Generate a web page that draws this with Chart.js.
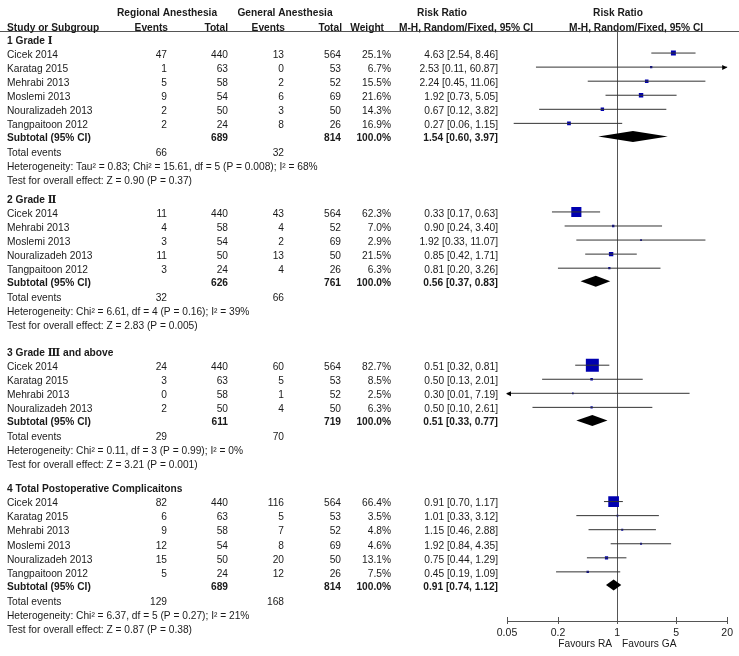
<!DOCTYPE html>
<html>
<head>
<meta charset="utf-8">
<title>Forest plot</title>
<script src="https://cdn.jsdelivr.net/npm/chart.js@4.4.1/dist/chart.umd.min.js"></script>
<style>
  html, body { margin: 0; padding: 0; background: #fff; }
  canvas { display: block; }
</style>
</head>
<body>
<canvas id="forestChart" width="739" height="656"></canvas>
<script>
// 그룹별 데이터
const groupTitles = ["1 Grade Ⅰ", "2 Grade Ⅱ", "3 Grade Ⅲ and above", "4 Total Postoperative Complicaitons"];
const studyNames = [
  ["Cicek 2014", "Karatag 2015", "Mehrabi 2013", "Moslemi 2013", "Nouralizadeh 2013", "Tangpaitoon 2012"],
  ["Cicek 2014", "Mehrabi 2013", "Moslemi 2013", "Nouralizadeh 2013", "Tangpaitoon 2012"],
  ["Cicek 2014", "Karatag 2015", "Mehrabi 2013", "Nouralizadeh 2013"],
  ["Cicek 2014", "Karatag 2015", "Mehrabi 2013", "Moslemi 2013", "Nouralizadeh 2013", "Tangpaitoon 2012"],
];
const raEvents = [[47, 1, 5, 9, 2, 2], [11, 4, 3, 11, 3], [24, 3, 0, 2], [82, 6, 9, 12, 15, 5]];
const raTotal = [[440, 63, 58, 54, 50, 24], [440, 58, 54, 50, 24], [440, 63, 58, 50], [440, 63, 58, 54, 50, 24]];
const gaEvents = [[13, 0, 2, 6, 3, 8], [43, 4, 2, 13, 4], [60, 5, 1, 4], [116, 5, 7, 8, 20, 12]];
const gaTotal = [[564, 53, 52, 69, 50, 26], [564, 52, 69, 50, 26], [564, 53, 52, 50], [564, 53, 52, 69, 50, 26]];
const weights = [[25.1, 6.7, 15.5, 21.6, 14.3, 16.9], [62.3, 7.0, 2.9, 21.5, 6.3], [82.7, 8.5, 2.5, 6.3], [66.4, 3.5, 4.8, 4.6, 13.1, 7.5]];
const riskRatio = [[4.63, 2.53, 2.24, 1.92, 0.67, 0.27], [0.33, 0.90, 1.92, 0.85, 0.81], [0.51, 0.50, 0.30, 0.50], [0.91, 1.01, 1.15, 1.92, 0.75, 0.45]];
const ciLower = [[2.54, 0.11, 0.45, 0.73, 0.12, 0.06], [0.17, 0.24, 0.33, 0.42, 0.20], [0.32, 0.13, 0.01, 0.10], [0.70, 0.33, 0.46, 0.84, 0.44, 0.19]];
const ciUpper = [[8.46, 60.87, 11.06, 5.05, 3.82, 1.15], [0.63, 3.40, 11.07, 1.71, 3.26], [0.81, 2.01, 7.19, 2.61], [1.17, 3.12, 2.88, 4.35, 1.29, 1.09]];

// 소계
const subRaTotal = [689, 626, 611, 689];
const subGaTotal = [814, 761, 719, 814];
const subRR = [1.54, 0.56, 0.51, 0.91];
const subLower = [0.60, 0.37, 0.33, 0.74];
const subUpper = [3.97, 0.83, 0.77, 1.12];
const totalRaEvents = [66, 32, 29, 129];
const totalGaEvents = [32, 66, 70, 168];
const heterogeneity = [
  "Heterogeneity: Tau² = 0.83; Chi² = 15.61, df = 5 (P = 0.008); I² = 68%",
  "Heterogeneity: Chi² = 6.61, df = 4 (P = 0.16); I² = 39%",
  "Heterogeneity: Chi² = 0.11, df = 3 (P = 0.99); I² = 0%",
  "Heterogeneity: Chi² = 6.37, df = 5 (P = 0.27); I² = 21%",
];
const overallEffect = [
  "Test for overall effect: Z = 0.90 (P = 0.37)",
  "Test for overall effect: Z = 2.83 (P = 0.005)",
  "Test for overall effect: Z = 3.21 (P = 0.001)",
  "Test for overall effect: Z = 0.87 (P = 0.38)",
];
const xTicks = [0.05, 0.2, 1, 5, 20];

// 레이아웃
const X_MIN = 0.05, X_MAX = 20;
const Y_MIN = -0.569, Y_MAX = 41.394;
const GROUP_GAPS = [1.3, 1.9, 1.7];
const FONT = '"Liberation Sans", Arial, "DejaVu Serif", sans-serif';
const FONT_SIZE = 10.2;
const TEXT_COLOR = "#1a1a1a";
const LINE_COLOR = "#555";
const COL = { name: 7, raEv: 167, raTot: 228, gaEv: 284, gaTot: 341, weight: 391, ci: 498 };

// 행 위치 계산
const rows = [];
let pos = 0;
groupTitles.forEach((title, g) => {
  if (g > 0) pos += GROUP_GAPS[g - 1];
  rows.push({ kind: "title", g, y: pos });
  studyNames[g].forEach((name, i) => {
    pos += 1;
    rows.push({ kind: "study", g, i, y: pos });
  });
  const last = pos;
  rows.push({ kind: "subtotal", g, y: last + 0.93 });
  rows.push({ kind: "events", g, y: last + 2 });
  rows.push({ kind: "het", g, y: last + 3 });
  rows.push({ kind: "test", g, y: last + 4 });
  pos = last + 4;
});

const studyRows = rows.filter((r) => r.kind === "study");
const subRows = rows.filter((r) => r.kind === "subtotal");

const fmt = (v) => v.toFixed(2);
const ciText = (est, lo, hi) => `${fmt(est)} [${fmt(lo)}, ${fmt(hi)}]`;

// 신뢰구간 선
const ciDatasets = studyRows.map((r) => ({
  type: "line",
  data: [
    { x: ciLower[r.g][r.i], y: r.y },
    { x: ciUpper[r.g][r.i], y: r.y },
  ],
  borderColor: "#333",
  borderWidth: 1,
  pointRadius: 0,
  pointHoverRadius: 0,
}));

// 가중치 사각형
const squareDataset = {
  type: "scatter",
  data: studyRows.map((r) => ({ x: riskRatio[r.g][r.i], y: r.y })),
  pointStyle: "rect",
  pointRadius: studyRows.map((r) => (1.4 + 0.14 * weights[r.g][r.i]) / Math.SQRT2),
  pointHoverRadius: studyRows.map((r) => (1.4 + 0.14 * weights[r.g][r.i]) / Math.SQRT2),
  backgroundColor: "#0000b0",
  borderWidth: 0,
};

function drawText(ctx, str, x, y, align, bold) {
  ctx.font = (bold ? "bold " : "") + FONT_SIZE + "px " + FONT;
  ctx.textAlign = align;
  ctx.textBaseline = "middle";
  ctx.fillStyle = TEXT_COLOR;
  ctx.fillText(str, x, y);
}

const forestPlugin = {
  id: "forest",
  beforeDatasetsDraw(chart) {
    const { ctx, chartArea, scales } = chart;
    ctx.save();
    ctx.strokeStyle = LINE_COLOR;
    ctx.lineWidth = 1;
    // 헤더 구분선
    ctx.beginPath();
    ctx.moveTo(0, Math.round(chartArea.top) + 0.5);
    ctx.lineTo(chart.width, Math.round(chartArea.top) + 0.5);
    ctx.stroke();
    // 기준선 (RR = 1)
    const x1 = Math.round(scales.x.getPixelForValue(1)) + 0.5;
    ctx.beginPath();
    ctx.moveTo(x1, chartArea.top);
    ctx.lineTo(x1, chartArea.bottom);
    ctx.stroke();
    ctx.restore();
  },
  afterDatasetsDraw(chart) {
    const { ctx, chartArea, scales } = chart;
    const xs = scales.x, ys = scales.y;
    ctx.save();

    // 소계 다이아몬드
    ctx.fillStyle = "#000";
    subRows.forEach((r) => {
      const y = ys.getPixelForValue(r.y);
      ctx.beginPath();
      ctx.moveTo(xs.getPixelForValue(subLower[r.g]), y);
      ctx.lineTo(xs.getPixelForValue(subRR[r.g]), y - 5.5);
      ctx.lineTo(xs.getPixelForValue(subUpper[r.g]), y);
      ctx.lineTo(xs.getPixelForValue(subRR[r.g]), y + 5.5);
      ctx.closePath();
      ctx.fill();
    });

    // 범위 밖 화살표
    ctx.fillStyle = "#000";
    studyRows.forEach((r) => {
      const y = ys.getPixelForValue(r.y) + 0.5;
      if (ciUpper[r.g][r.i] > X_MAX) {
        const x = chartArea.right;
        ctx.beginPath();
        ctx.moveTo(x, y);
        ctx.lineTo(x - 5, y - 2.5);
        ctx.lineTo(x - 5, y + 2.5);
        ctx.closePath();
        ctx.fill();
      }
      if (ciLower[r.g][r.i] < X_MIN) {
        const x = chartArea.left - 1;
        ctx.beginPath();
        ctx.moveTo(x, y);
        ctx.lineTo(x + 5, y - 2.5);
        ctx.lineTo(x + 5, y + 2.5);
        ctx.closePath();
        ctx.fill();
      }
    });

    // 축 눈금
    ctx.strokeStyle = LINE_COLOR;
    ctx.lineWidth = 1;
    xTicks.forEach((v) => {
      const x = Math.round(xs.getPixelForValue(v)) + 0.5;
      ctx.beginPath();
      ctx.moveTo(x, chartArea.bottom - 4);
      ctx.lineTo(x, chartArea.bottom + 3);
      ctx.stroke();
    });

    // 헤더
    const ty = (v) => ys.getPixelForValue(v) + 2;
    const h1 = ty(-2), h2 = ty(-0.93);
    drawText(ctx, "Regional Anesthesia", 167, h1, "center", true);
    drawText(ctx, "General Anesthesia", 285, h1, "center", true);
    drawText(ctx, "Risk Ratio", 442, h1, "center", true);
    drawText(ctx, "Risk Ratio", 618, h1, "center", true);
    drawText(ctx, "Study or Subgroup", COL.name, h2, "left", true);
    drawText(ctx, "Events", 168, h2, "right", true);
    drawText(ctx, "Total", 228, h2, "right", true);
    drawText(ctx, "Events", 285, h2, "right", true);
    drawText(ctx, "Total", 342, h2, "right", true);
    drawText(ctx, "Weight", 384, h2, "right", true);
    drawText(ctx, "M-H, Random/Fixed, 95% CI", 466, h2, "center", true);
    drawText(ctx, "M-H, Random/Fixed, 95% CI", 636, h2, "center", true);

    // 표 본문
    rows.forEach((r) => {
      const y = ty(r.y);
      const g = r.g;
      if (r.kind === "title") {
        drawText(ctx, groupTitles[g], COL.name, y, "left", true);
      } else if (r.kind === "study") {
        const i = r.i;
        drawText(ctx, studyNames[g][i], COL.name, y, "left", false);
        drawText(ctx, String(raEvents[g][i]), COL.raEv, y, "right", false);
        drawText(ctx, String(raTotal[g][i]), COL.raTot, y, "right", false);
        drawText(ctx, String(gaEvents[g][i]), COL.gaEv, y, "right", false);
        drawText(ctx, String(gaTotal[g][i]), COL.gaTot, y, "right", false);
        drawText(ctx, weights[g][i].toFixed(1) + "%", COL.weight, y, "right", false);
        drawText(ctx, ciText(riskRatio[g][i], ciLower[g][i], ciUpper[g][i]), COL.ci, y, "right", false);
      } else if (r.kind === "subtotal") {
        drawText(ctx, "Subtotal (95% CI)", COL.name, y, "left", true);
        drawText(ctx, String(subRaTotal[g]), COL.raTot, y, "right", true);
        drawText(ctx, String(subGaTotal[g]), COL.gaTot, y, "right", true);
        drawText(ctx, "100.0%", COL.weight, y, "right", true);
        drawText(ctx, ciText(subRR[g], subLower[g], subUpper[g]), COL.ci, y, "right", true);
      } else if (r.kind === "events") {
        drawText(ctx, "Total events", COL.name, y, "left", false);
        drawText(ctx, String(totalRaEvents[g]), COL.raEv, y, "right", false);
        drawText(ctx, String(totalGaEvents[g]), COL.gaEv, y, "right", false);
      } else if (r.kind === "het") {
        drawText(ctx, heterogeneity[g], COL.name, y, "left", false);
      } else if (r.kind === "test") {
        drawText(ctx, overallEffect[g], COL.name, y, "left", false);
      }
    });

    // 축 설명
    const x1 = xs.getPixelForValue(1);
    const fy = chartArea.bottom + 23;
    drawText(ctx, "Favours RA", x1 - 5, fy, "right", false);
    drawText(ctx, "Favours GA", x1 + 5, fy, "left", false);

    ctx.restore();
  },
};

document.addEventListener("DOMContentLoaded", () => {
  const ctx = document.getElementById("forestChart").getContext("2d");
  new Chart(ctx, {
    type: "scatter",
    data: { datasets: [...ciDatasets, squareDataset] },
    options: {
      responsive: false,
      animation: false,
      events: [],
      layout: { padding: { left: 507, right: 11, top: 31, bottom: 0 } },
      plugins: {
        legend: { display: false },
        tooltip: { enabled: false },
      },
      scales: {
        x: {
          type: "logarithmic",
          min: X_MIN,
          max: X_MAX,
          afterBuildTicks: (scale) => {
            scale.ticks = xTicks.map((v) => ({ value: v }));
          },
          afterFit: (scale) => {
            scale.height = 35;
          },
          grid: { drawOnChartArea: false, drawTicks: false },
          border: { display: true, color: LINE_COLOR, width: 1 },
          ticks: {
            autoSkip: false,
            maxRotation: 0,
            padding: 6,
            color: TEXT_COLOR,
            font: { family: FONT, size: 10.5 },
            callback: (value) => String(value),
          },
        },
        y: {
          type: "linear",
          display: false,
          reverse: true,
          min: Y_MIN,
          max: Y_MAX,
        },
      },
    },
    plugins: [forestPlugin],
  });
});
</script>
</body>
</html>
